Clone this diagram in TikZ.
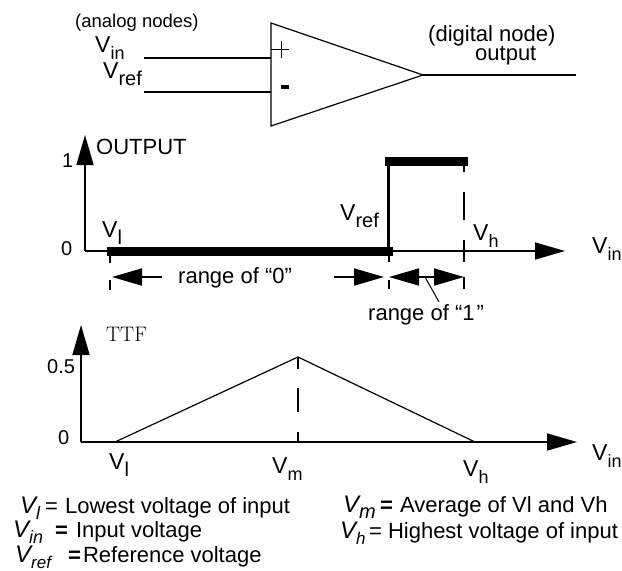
\documentclass[tikz,border=0pt]{standalone}
\usepackage{fontspec}
\newfontfamily\lib{Liberation Sans}
\usetikzlibrary{arrows.meta}
\newcommand{\Vs}[2]{V\raisebox{-7.5pt}{\fontsize{#2}{#2}\selectfont #1}}
\newcommand{\Vi}[2]{\textit{V\raisebox{-6pt}{\fontsize{#2}{#2}\selectfont #1}}}
\newcommand{\Lg}[5]{\makebox[#3pt][l]{\fontsize{24}{24}\selectfont\Vi{#1}{#2}}#4\hspace{#5pt}}
\tikzset{
  x=1pt,y=-1pt,
  txt/.style={inner sep=0pt,anchor=base west,font=\lib\fontsize{22}{22}\selectfont},
  ana/.style={inner sep=0pt,anchor=base west,font=\lib\fontsize{18.5}{19}\selectfont},
  num/.style={inner sep=0pt,anchor=base west,font=\lib\fontsize{20}{20}\selectfont},
  big/.style={inner sep=0pt,anchor=base west,font=\lib\fontsize{23}{23}\selectfont},
  wire/.style={line width=1.7pt},
  thinline/.style={line width=1.2pt},
  thickbar/.style={line width=9pt},
  axisarrow/.style={line width=1.7pt,-{Triangle[length=30pt,width=17pt]}},
  tick/.style={line width=1.7pt},
}
\begin{document}
\begin{tikzpicture}
\useasboundingbox (0,0) rectangle (622,571);
% comparator
\coordinate (ta) at (271,23);
\coordinate (tb) at (271,126);
\coordinate (tc) at (423,75);
\draw[thinline] (ta) -- (tb) -- (tc) -- cycle;
\coordinate (vinS) at (144,58); \coordinate (vinE) at (271,58);
\coordinate (vrfS) at (144,92); \coordinate (vrfE) at (271,92);
\coordinate (outE) at (576,75);
\draw[wire] (vinS) -- (vinE);
\draw[wire] (vrfS) -- (vrfE);
\draw[wire] (tc) -- (outE);
\draw[line width=0.9pt] (271,49) -- (289,49) (281,41) -- (281,58);
\fill (281,85) rectangle (289,89);
\node[ana] (analog) at (75,27) {(analog nodes)};
\node[big] (vinl) at (95,52) {\Vs{in}{18}};
\node[big] (vrefl) at (103,78) {\Vs{ref}{20}};
\node[txt] (digital) at (428,41) {(digital node)};
\node[txt] (outl) at (475,60) {output};
% output graph
\coordinate (o1) at (85,251);
\coordinate (o1y) at (85,135);
\coordinate (o1x) at (565,251);
\draw[axisarrow] (o1) -- (o1y);
\draw[axisarrow] (o1) -- (o1x);
\draw[thickbar] (107,251) -- (393,251);
\draw[line width=3pt] (388.5,251) -- (388.5,161);
\draw[thickbar] (385,161.5) -- (468,161.5);
\draw[tick] (464,166) -- (464,172) (464,192) -- (464,220) (464,240) -- (464,262) (464,277) -- (464,289);
\draw[tick] (110,255) -- (110,263) (110,280) -- (110,290);
\draw[tick] (389,255) -- (389,262) (389,280) -- (389,289);
\node[txt] (outp) at (96,154) {OUTPUT};
\node[num] (one) at (62,167) {1};
\node[num] (zero) at (61,255) {0};
\node[big] (vl1) at (102,237) {\Vs{l}{20}};
\node[big] (vr1) at (340,220) {\Vs{ref}{20}};
\node[big] (vh1) at (473,240) {\Vs{h}{18}};
\node[big] (vi1) at (592,253) {\Vs{in}{18}};
% ranges
\coordinate (r0a) at (162,277); \coordinate (r0b) at (112,277);
\coordinate (r0c) at (334,277); \coordinate (r0d) at (384,277);
\coordinate (r1m) at (426.5,277); \coordinate (r1a) at (389,277); \coordinate (r1b) at (464,277);
\draw[axisarrow] (r0a) -- (r0b);
\draw[axisarrow] (r0c) -- (r0d);
\draw[axisarrow] (r1m) -- (r1a);
\draw[axisarrow] (r1m) -- (r1b);
\node[txt] (r0t) at (178,283) {range of “0”};
\node[txt] (r1t) at (368,320) {range of “1\hspace{2pt}”};
\coordinate (leadS) at (425,277);
\coordinate (leadE) at (439,302);
\draw[line width=1pt] (leadS) -- (leadE);
% TTF graph
\coordinate (o2) at (81,442);
\coordinate (o2y) at (81,325);
\coordinate (o2x) at (577,442);
\draw[axisarrow] (o2) -- (o2y);
\draw[axisarrow] (o2) -- (o2x);
\coordinate (tl) at (115,442); \coordinate (tp) at (298,357); \coordinate (tr) at (475,442);
\draw[thinline] (tl) -- (tp) -- (tr);
\draw[tick] (298,357) -- (298,369) (298,388) -- (298,412) (298,432) -- (298,442);
\node[inner sep=0pt,anchor=base west,font=\fontsize{21}{21}\selectfont] (ttf) at (106,341) {TTF};
\node[num] (half) at (47,373) {0.5};
\node[num] (zerob) at (58,444) {0};
\node[big] (vl2) at (109,469) {\Vs{l}{20}};
\node[big] (vm2) at (272,473) {\Vs{m}{18}};
\node[big] (vh2) at (463,476) {\Vs{h}{18}};
\node[big] (vi2) at (592,460) {\Vs{in}{18}};
% legend
\node[txt] (lg1) at (20,513) {\Lg{l}{18}{25}{=}{7}Lowest voltage of input};
\node[txt] (lg2) at (13,537) {\Lg{in}{18}{42}{\textbf{=}}{8}Input voltage};
\node[txt] (lg3) at (15,562) {\Lg{ref}{17}{53}{\textbf{=}}{2}Reference voltage};
\node[txt] (lg4) at (343,512) {\Lg{m}{20}{37}{\textbf{=}}{7}Average of Vl and Vh};
\node[txt] (lg5) at (340,538) {\Lg{h}{17}{29}{=}{6}Highest voltage of input};
\end{tikzpicture}
\end{document}
